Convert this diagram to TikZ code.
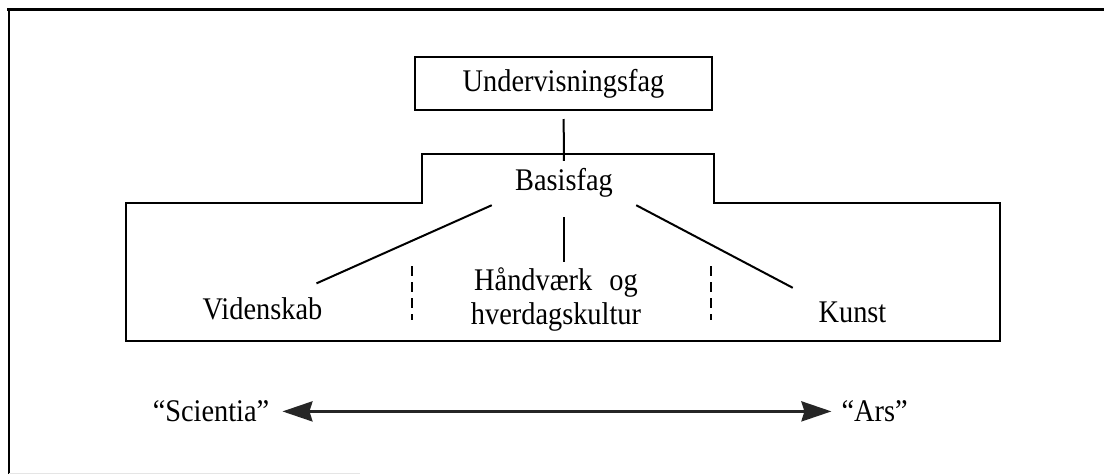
\documentclass[tikz,border=0pt]{standalone}
\usepackage{fontspec}
\setmainfont[FakeStretch=0.9]{Liberation Serif}
\usetikzlibrary{positioning,arrows.meta}

\begin{document}
\begin{tikzpicture}[
  x=1pt, y=-1pt,
  every node/.style={font=\fontsize{31.5}{34}\selectfont, inner sep=0pt},
  fagbox/.style={draw, line width=2pt, minimum width=297pt, minimum height=53pt},
  outline/.style={line width=2pt, line join=miter},
  link/.style={line width=2pt},
  divider/.style={line width=2pt, dash pattern=on 10pt off 6pt},
  spectrum/.style={line width=3pt, black!85,
    {Stealth[length=30pt,width=20pt,inset=3pt]}-{Stealth[length=30pt,width=20pt,inset=3pt]}}
]
  \useasboundingbox (0,0) rectangle (1104,474);

  % frame of the page
  \draw[line width=1.2pt] (9,474) -- (9,9.5);
  \draw[line width=3.5pt] (7,9.5) -- (1104,9.5);
  \draw[black!10, line width=1pt] (9,473) -- (360,473);

  \node[fagbox] (under) at (563.5,83.5) {Undervisningsfag};

  % stepped outline round Basisfag
  \draw[outline] (126,341) -- (126,203) -- (422,203) -- (422,154)
    -- (714,154) -- (714,203) -- (1000,203) -- (1000,341) -- cycle;

  \node[minimum width=144pt, minimum height=44pt] (basis) at (564,183) {Basisfag};
  \node (viden) at (262.5,309) {Videnskab};
  \node[align=center] (hand) at (556,299) {Håndværk\hspace{10pt} og\\hverdagskultur};
  \node (kunst) at (852.5,312) {Kunst};

  \draw[link, shorten <=8pt] (under) -- (basis);
  \draw[link, shorten >=35pt] (basis.south west) -- ([xshift=22pt]viden.north);
  \draw[link, shorten <=12pt, shorten >=5pt] (basis.south) -- (basis.south |- hand.north);
  \draw[link, shorten >=29pt] (basis.south east) -- (kunst.north west);

  \draw[divider] (412,266) -- (412,320);
  \draw[divider] (711,266) -- (711,320);

  % Scientia -- Ars
  \node (scientia) at (211,411.4) {“Scientia”};
  \node[right=572pt of scientia] (ars) {“Ars”};
  \draw[spectrum, shorten <=13pt, shorten >=10pt] (scientia) -- (ars);
\end{tikzpicture}
\end{document}
